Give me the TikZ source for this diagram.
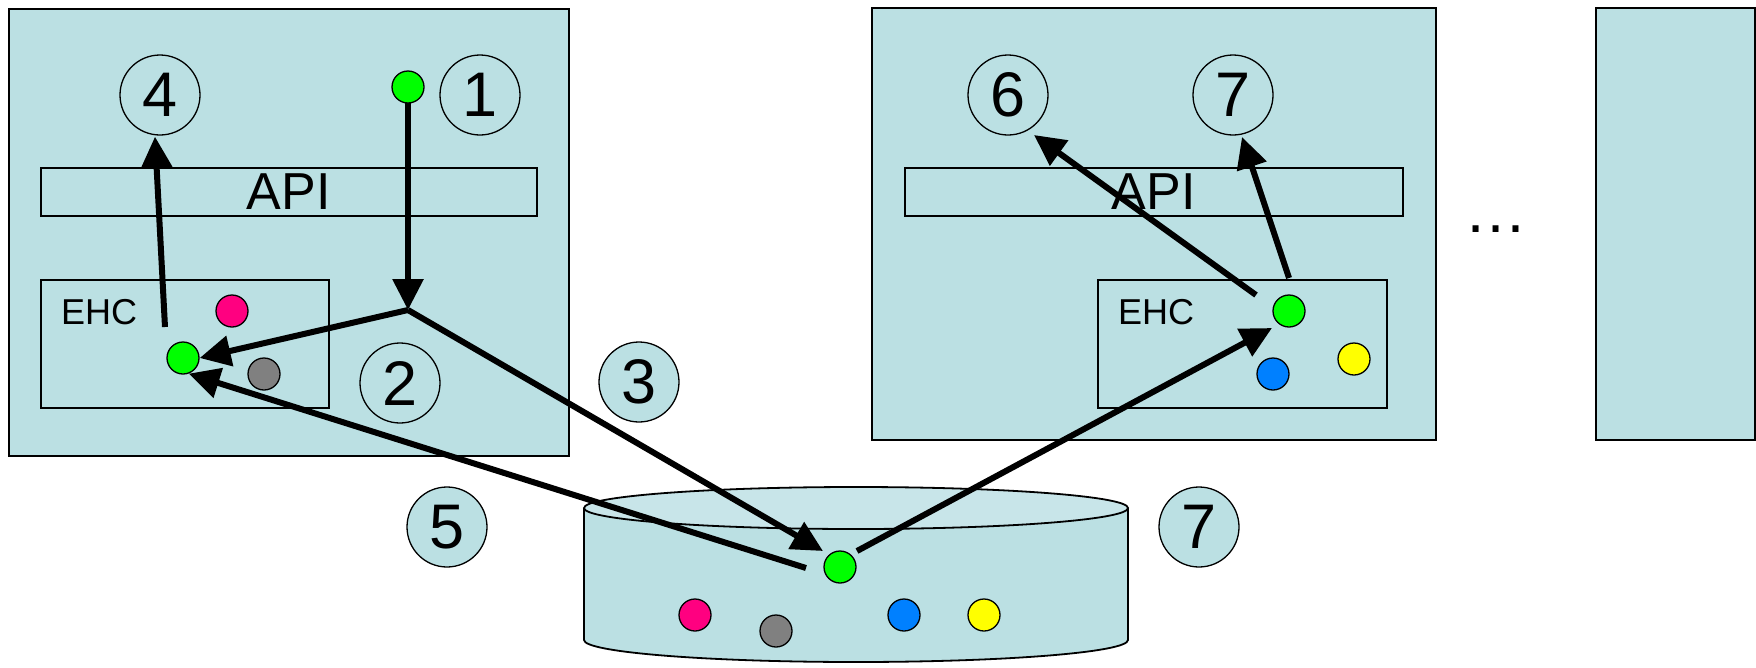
\documentclass[tikz,border=0pt]{standalone}
\usepackage{fontspec}
\setmainfont{Liberation Sans}
\usetikzlibrary{arrows.meta,calc}
\definecolor{lb}{RGB}{187,224,227}
\definecolor{lbtop}{RGB}{200,229,233}
\definecolor{dgreen}{RGB}{0,255,0}
\definecolor{dpink}{RGB}{255,0,128}
\definecolor{dgray}{RGB}{128,128,128}
\definecolor{dblue}{RGB}{0,128,255}
\definecolor{dyellow}{RGB}{255,255,0}
\pgfdeclarelayer{back}
\pgfdeclarelayer{mid}
\pgfsetlayers{back,mid,main}
\tikzset{
  panel/.style={draw, line width=2pt, fill=lb, anchor=north west, inner sep=0pt},
  apibox/.style={draw, line width=1.6pt, anchor=north west, inner sep=0pt, font=\fontsize{52}{60}\selectfont},
  ehcbox/.style={draw, line width=1.6pt, anchor=north west, inner sep=0pt},
  ehclabel/.style={anchor=west, inner sep=0pt, font=\fontsize{36}{40}\selectfont},
  num/.style={circle, draw, line width=1.3pt, fill=lb, minimum size=80pt, inner sep=0pt, font=\fontsize{63}{70}\selectfont},
  dot/.style={circle, draw, line width=1.3pt, minimum size=32pt, inner sep=0pt},
  arr/.style={line width=6pt, -{Triangle[length=31pt,width=30pt]}},
}
\begin{document}
\begin{tikzpicture}[x=1pt,y=-1pt]
\useasboundingbox (0,0) rectangle (1756,667);
\begin{pgfonlayer}{back}
  % panels
  \node[panel, minimum width=560pt, minimum height=447pt] (PL) at (8,8) {};
  \node[panel, minimum width=564pt, minimum height=432pt] (PR) at (871,7) {};
  \node[panel, minimum width=159pt, minimum height=432pt] (PX) at (1595,7) {};
  % API boxes
  \node[apibox, minimum width=496pt, minimum height=48pt] (APIL) at (40,167) {API};
  \node[apibox, minimum width=498pt, minimum height=48pt] (APIR) at (904,167) {API};
  % EHC boxes
  \node[ehcbox, minimum width=288pt, minimum height=128pt] (EHCL) at (40,279) {};
  \node[ehcbox, minimum width=289pt, minimum height=128pt] (EHCR) at (1097,279) {};
  \node[ehclabel] (EHCLt) at (61,312) {EHC};
  \node[ehclabel] (EHCRt) at (1118,312) {EHC};
  % tank
  \path[fill=lb, draw, line width=1.8pt] (584,508) -- (584,640)
     arc[start angle=180, end angle=360, x radius=272pt, y radius=22pt] -- (1128,508);
  \draw[fill=lbtop, line width=1.8pt] (856,508) ellipse[x radius=272pt, y radius=21pt];
\end{pgfonlayer}

% number circles
\node[num] (c4) at (160,95) {4};
\node[num] (c1) at (480,95) {1};
\node[num] (c2) at (400,383) {2};
\node[num] (c3) at (639,382) {3};
\node[num] (c5) at (447,527) {5};
\node[num] (c7b) at (1199,527) {7};
\node[num] (c6) at (1008,95) {6};
\node[num] (c7) at (1233,95) {7};

% dots
\node[dot, fill=dgreen] (gTop) at (408,87) {};
\node[dot, fill=dpink] (pL) at (232,311) {};
\node[dot, fill=dgreen] (gL) at (183,358) {};
\node[dot, fill=dgray] (grL) at (264,374) {};
\node[dot, fill=dgreen] (gR) at (1289,311) {};
\node[dot, fill=dblue] (bR) at (1273,374) {};
\node[dot, fill=dyellow] (yR) at (1354,359) {};
\node[dot, fill=dgreen] (gT) at (840,567) {};
\node[dot, fill=dpink] (pT) at (695,615) {};
\node[dot, fill=dgray] (grT) at (776,631) {};
\node[dot, fill=dblue] (bT) at (904,615) {};
\node[dot, fill=dyellow] (yT) at (984,615) {};

\node[inner sep=0pt, font=\fontsize{63}{70}\selectfont] (dots) at (1496,229) {…};

% connectors
\coordinate (J) at (408,310);
\coordinate (s4) at (165,327);
\coordinate (s5) at (806,568);
\coordinate (s8) at (857,551);
\coordinate (s6) at (1256,295);
\coordinate (s7) at (1289,278);
\begin{pgfonlayer}{mid}
  \draw[arr] (gTop.center) -- (J);
  \draw[arr] (J) -- (gL.east);
  \draw[arr] (J) -- ($(gT)+(-17,-16)$);
  \draw[arr] (s4) -- ($(c4.south)+(-5,1)$);
  \draw[arr] (s5) -- (gL.-70);
  \draw[arr] (s8) -- ($(gR)+(-17,17)$);
  \draw[arr] (s6) -- ($(c6)+(26,40)$);
  \draw[arr] (s7) -- ($(c7)+(9,42)$);
\end{pgfonlayer}
\end{tikzpicture}
\end{document}
